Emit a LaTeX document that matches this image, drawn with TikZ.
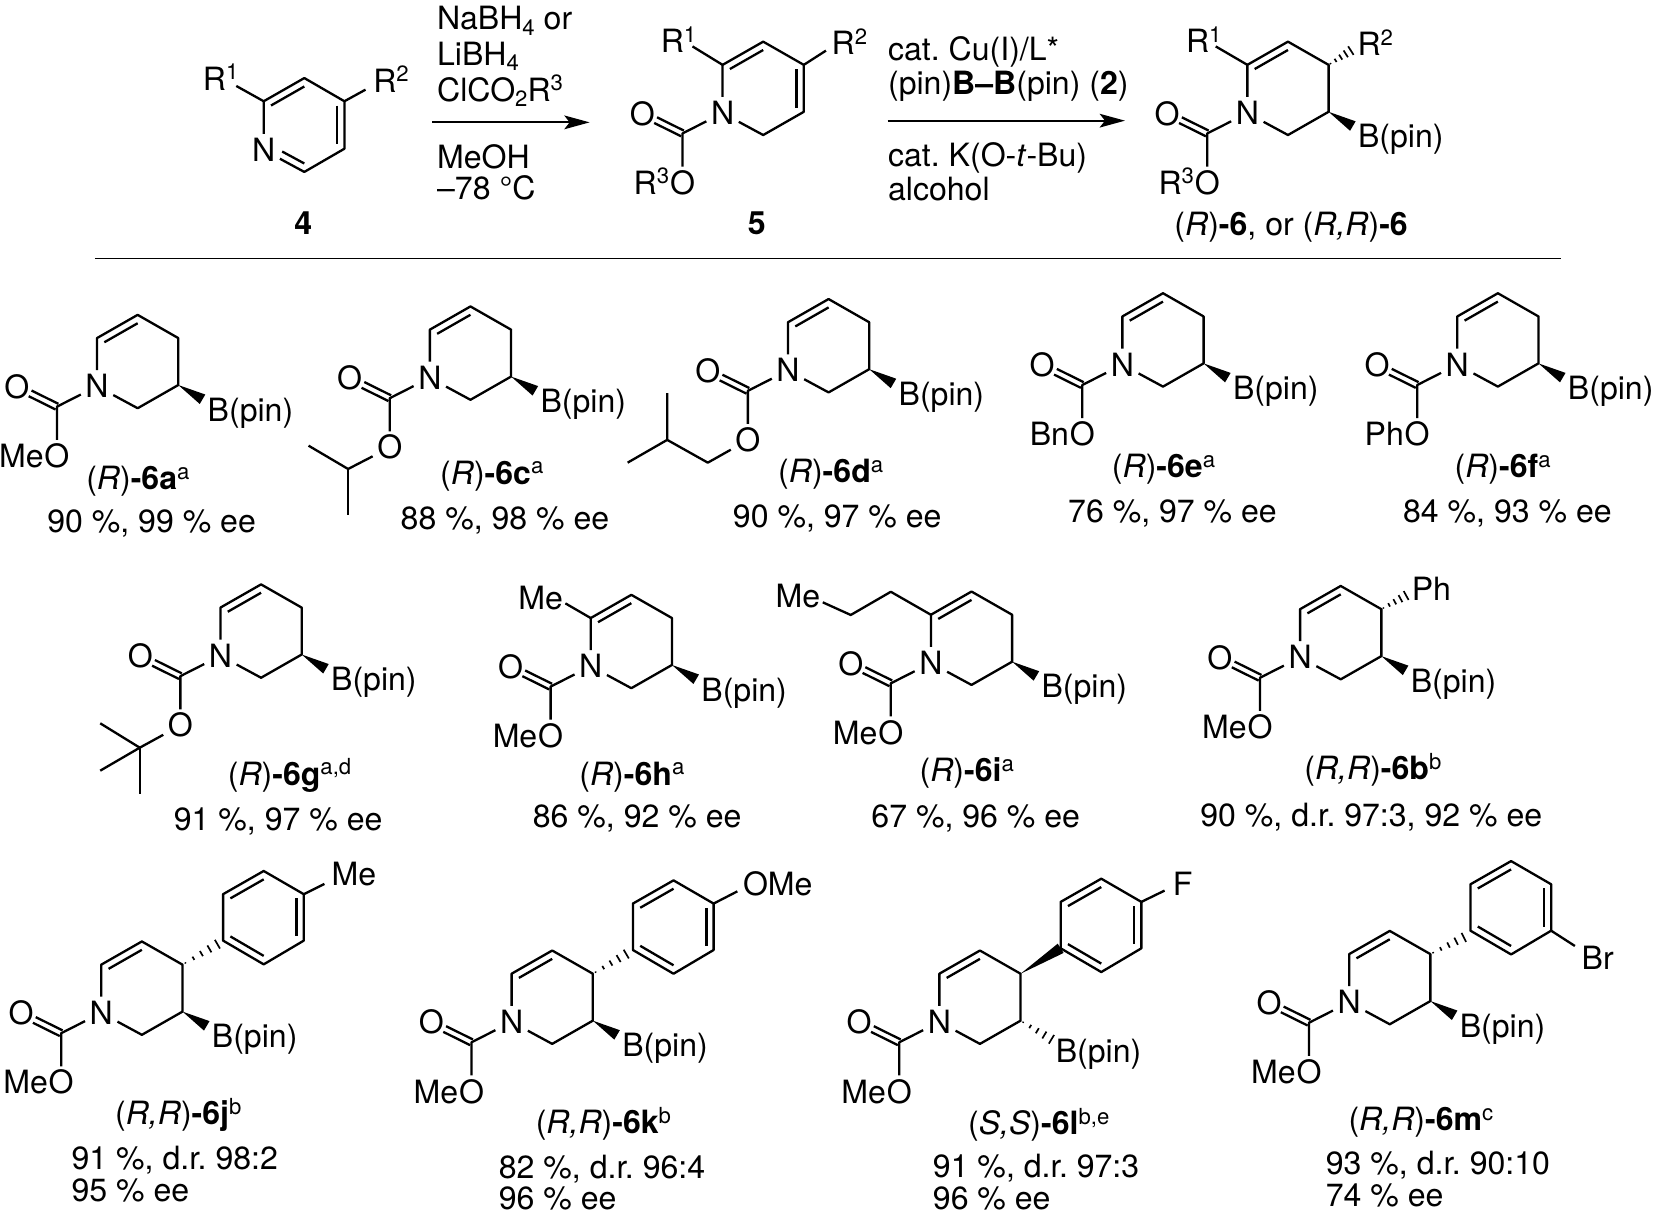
\documentclass[tikz,border=0pt]{standalone}
\usepackage{fontspec}
\setmainfont{TeX Gyre Heros}
\usetikzlibrary{calc,arrows.meta}
\frenchspacing
\newcommand{\sps}[1]{\raisebox{5pt}{\fontsize{10.5}{10.5}\selectfont #1}}
\newcommand{\sbs}[1]{\raisebox{-2.7pt}{\fontsize{10.5}{10.5}\selectfont #1}}
\newcommand{\cmp}[3]{(\textit{#1})\textbf{-#2}\sps{#3}}
\tikzset{
  bond/.style={line width=1.1pt,line join=round},
  rxn/.style={line width=.9pt,-{Stealth[length=12pt,width=6.5pt,inset=2.5pt]}},
  txt/.style={inner sep=0pt,yshift=-.6pt,font=\fontsize{15.2}{18}\selectfont},
  atom/.style={txt,inner sep=2pt,text height=10.9pt,text depth=0pt},
  cpd/.style={txt,anchor=base},
  lft/.style={txt,anchor=base west},
}
% inner line of a ring double bond
\newcommand{\inbond}[3]{\draw[bond] ($(#1)!.18!(#3)$) -- ($(#2)!.18!(#3)$);}
% C=O double bond
\newcommand{\cdbl}[2]{%
  \draw[bond,shorten >=7pt] ($(#1)!1.5pt!-90:(#2)$) -- ($(#2)!1.5pt!90:(#1)$);
  \draw[bond,shorten >=7pt] ($(#1)!1.5pt!90:(#2)$) -- ($(#2)!1.5pt!-90:(#1)$);}
\newcommand{\wdg}[2]{\fill ($(#2)!2.6pt!90:(#1)$) -- (#1) -- ($(#2)!2.6pt!-90:(#1)$) -- cycle;}
\newcommand{\hsh}[2]{%
  \foreach \t/\w in {.08/.3,.30/.9,.52/1.4,.74/1.9,.96/2.4}{%
    \draw[line width=.8pt] ($($(#1)!\t!(#2)$)!\w pt!90:(#2)$) -- ($($(#1)!\t!(#2)$)!\w pt!-90:(#2)$);}}
% tetrahydropyridine core, N at the scope's origin
\newcommand{\pipcore}[1]{%
  \node[atom] (n) at (0,0) {N};
  \coordinate (c6) at (0,-44.5);
  \coordinate (c5) at (38.5,-66.5);
  \coordinate (c4) at (77,-44.5);
  \coordinate (c3) at (77,0);
  \coordinate (c2) at (38.5,22);
  \coordinate (cen) at (38.5,-22.5);
  \coordinate (co) at (-38,20.5);
  \node[atom] (oa) at (-76,0.5) {O};
  \node[atom] (oe) at (-38,66) {O};
  \draw[bond] (n) -- (c6) -- (c5) -- (c4) -- (c3) -- (c2) -- (n);
  \inbond{c6}{c5}{cen}
  \draw[bond] (n) -- (co) -- (oe);
  \cdbl{co}{oa}
  \if\relax\detokenize{#1}\relax\else
    \node[txt,anchor=base east,xshift=2pt,yshift=.6pt] (oel) at (oe.base west) {#1};
  \fi}
\newcommand{\bpinw}{%
  \coordinate (bb) at (100,13.5);
  \wdg{c3}{bb}
  \node[lft] (bp) at (104.5,33) {B(pin)};}
% aryl ring, with its ipso carbon at (#1,#2) from N
\newcommand{\arylring}[2]{%
  \begin{scope}[shift={(#1,#2)}]
  \coordinate (a0) at (0,0);
  \coordinate (a1) at (0,-44);
  \coordinate (a2) at (38.5,-66);
  \coordinate (a3) at (76.5,-44);
  \coordinate (a4) at (76.5,0);
  \coordinate (a5) at (38.5,22.5);
  \coordinate (ac) at (38.5,-22);
  \draw[bond] (a0) -- (a1) -- (a2) -- (a3) -- (a4) -- (a5) -- cycle;
  \inbond{a0}{a5}{ac}
  \inbond{a1}{a2}{ac}
  \inbond{a3}{a4}{ac}
  \end{scope}}
\begin{document}
\begin{tikzpicture}[x=.5pt,y=-.5pt]
\useasboundingbox (0,0) rectangle (1568,1155);
\fill[white] (0,0) rectangle (1568,1155);

% ---------- compound 4
\begin{scope}[shift={(250,141)},name prefix=p4-]
  \node[atom] (n) at (0,0) {N};
  \coordinate (c2) at (0,-45);
  \coordinate (c3) at (38.5,-67);
  \coordinate (c4) at (76.5,-45);
  \coordinate (c5) at (76.5,0);
  \coordinate (c6) at (38.5,22);
  \coordinate (cen) at (38.5,-22.5);
  \draw[bond] (n) -- (c2) -- (c3) -- (c4) -- (c5) -- (c6) -- (n);
  \inbond{c2}{c3}{cen}
  \inbond{c4}{c5}{cen}
  \draw[bond,shorten <=6pt] ($(n)!.18!(cen)$) -- ($(c6)!.18!(cen)$);
  \coordinate (r1e) at (-26,-59.5);
  \coordinate (r2e) at (96.5,-56);
  \draw[bond] (c2) -- (r1e);
  \draw[bond] (c4) -- (r2e);
  \node[lft] (r1) at (-58,-56.5) {R\sps{1}};
  \node[lft] (r2) at (103.5,-54.5) {R\sps{2}};
\end{scope}
\node[cpd] (l4) at (287.5,221.5) {\textbf{4}};

% ---------- first arrow
\coordinate (ar1s) at (410,116);
\coordinate (ar1e) at (559,116);
\draw[rxn] (ar1s) -- (ar1e);
\node[lft] (t1) at (414,27) {NaBH\sbs{4} or};
\node[lft] (t2) at (414,60.7) {LiBH\sbs{4}};
\node[lft] (t3) at (414,94.8) {ClCO\sbs{2}R\sps{3}};
\node[lft] (t4) at (414,158.6) {MeOH};
\node[lft] (t5) at (414,188) {–78 °C};

% ---------- compound 5
\begin{scope}[shift={(685,106)},name prefix=p5-]
  \pipcore{R\sps{3}}
  \inbond{c4}{c3}{cen}
  \coordinate (r1e) at (-28.5,-62);
  \coordinate (r2e) at (98,-58);
  \draw[bond] (c6) -- (r1e);
  \draw[bond] (c4) -- (r2e);
  \node[lft] (r1) at (-59,-57.3) {R\sps{1}};
  \node[lft] (r2) at (103,-55.3) {R\sps{2}};
\end{scope}
\node[cpd] (l5) at (717.5,221.5) {\textbf{5}};

% ---------- second arrow
\coordinate (ar2s) at (841.5,114.4);
\coordinate (ar2e) at (1066.5,114.4);
\draw[rxn] (ar2s) -- (ar2e);
\node[lft] (t6) at (841.5,56) {cat. Cu(I)/L*};
\node[lft] (t7) at (841.5,88.5) {(pin)\textbf{B–B}(pin) (\textbf{2})};
\node[lft] (t8) at (841.5,156.4) {cat. K(O-\textit{t}-Bu)};
\node[lft] (t9) at (841.5,188.6) {alcohol};

% ---------- product
\begin{scope}[shift={(1182.5,106)},name prefix=p6-]
  \pipcore{R\sps{3}}
  \bpinw
  \coordinate (r1e) at (-30,-62);
  \coordinate (r2e) at (99,-58.6);
  \draw[bond] (c6) -- (r1e);
  \hsh{c4}{r2e}
  \node[lft] (r1) at (-58.5,-57) {R\sps{1}};
  \node[lft] (r2) at (104,-54.3) {R\sps{2}};
\end{scope}
\node[cpd] (l6) at (1224,222) {(\textit{R})\textbf{-6}, or (\textit{R,R})\textbf{-6}};

% ---------- rule
\coordinate (rule1) at (90,245);
\coordinate (rule2) at (1480,245);
\draw[line width=.85pt] (rule1) -- (rule2);

% ---------- row 1
\begin{scope}[shift={(92,365)},name prefix=a-]
  \pipcore{Me}\bpinw
\end{scope}
\node[cpd] (la) at (130.7,463) {\cmp{R}{6a}{a}};
\node[cpd] (ya) at (143.7,504) {90 \%, 99 \% ee};

\begin{scope}[shift={(407.5,357)},name prefix=c-]
  \pipcore{}\bpinw
  \coordinate (ch) at (-77.5,87.6);
  \coordinate (m1) at (-115,65.5);
  \coordinate (m2) at (-77.5,131);
  \draw[bond] (oe) -- (ch) -- (m1);
  \draw[bond] (ch) -- (m2);
\end{scope}
\node[cpd] (lc) at (466.2,458) {\cmp{R}{6c}{a}};
\node[cpd] (yc) at (478.7,500.8) {88 \%, 98 \% ee};

\begin{scope}[shift={(747,350)},name prefix=d-]
  \pipcore{}\bpinw
  \coordinate (ch2) at (-76,88.6);
  \coordinate (ch) at (-114.5,67);
  \coordinate (m1) at (-114.5,22.8);
  \coordinate (m2) at (-152,88.6);
  \draw[bond] (oe) -- (ch2) -- (ch) -- (m1);
  \draw[bond] (ch) -- (m2);
\end{scope}
\node[cpd] (ld) at (787.5,456.6) {\cmp{R}{6d}{a}};
\node[cpd] (yd) at (793.7,498.6) {90 \%, 97 \% ee};

\begin{scope}[shift={(1064,344.5)},name prefix=e-]
  \pipcore{Bn}\bpinw
\end{scope}
\node[cpd] (le) at (1103,451.8) {\cmp{R}{6e}{a}};
\node[cpd] (ye) at (1111.5,494.5) {76 \%, 97 \% ee};

\begin{scope}[shift={(1381.5,344.5)},name prefix=f-]
  \pipcore{Ph}\bpinw
\end{scope}
\node[cpd] (lf) at (1424.5,451.8) {\cmp{R}{6f}{a}};
\node[cpd] (yf) at (1429,494.5) {84 \%, 93 \% ee};

% ---------- row 2
\begin{scope}[shift={(209,620.5)},name prefix=g-]
  \pipcore{}\bpinw
  \coordinate (cq) at (-76.5,88.3);
  \coordinate (m1) at (-114,65.2);
  \coordinate (m2) at (-114,110.1);
  \coordinate (m3) at (-76.5,132.2);
  \draw[bond] (oe) -- (cq) -- (m1);
  \draw[bond] (cq) -- (m2);
  \draw[bond] (cq) -- (m3);
\end{scope}
\node[cpd] (lg) at (274.5,743) {\cmp{R}{6g}{a,d}};
\node[cpd] (yg) at (263.7,786.2) {91 \%, 97 \% ee};

\begin{scope}[shift={(560,630.4)},name prefix=h-]
  \pipcore{Me}\bpinw
  \coordinate (me) at (-24,-58.4);
  \draw[bond] (c6) -- (me);
  \node[lft] (mt) at (-69,-54) {Me};
\end{scope}
\node[cpd] (lh) at (599,743) {\cmp{R}{6h}{a}};
\node[cpd] (yh) at (604,783.7) {86 \%, 92 \% ee};

\begin{scope}[shift={(882.5,627.3)},name prefix=i-]
  \pipcore{Me}\bpinw
  \coordinate (k1) at (-38,-66.3);
  \coordinate (k2) at (-76,-44.3);
  \coordinate (k3) at (-102.5,-56.3);
  \draw[bond] (c6) -- (k1) -- (k2) -- (k3);
  \node[lft] (mt) at (-147.5,-52.6) {Me};
\end{scope}
\node[cpd] (li) at (916.5,740) {\cmp{R}{6i}{a}};
\node[cpd] (yi) at (925,783) {67 \%, 96 \% ee};

\begin{scope}[shift={(1232.5,622)},name prefix=b-]
  \pipcore{Me}\bpinw
  \coordinate (ph) at (101.5,-58);
  \hsh{c4}{ph}
  \node[lft] (pt) at (105.5,-53.5) {Ph};
\end{scope}
\node[cpd] (lb) at (1301.5,738) {\cmp{R,R}{6b}{b}};
\node[cpd] (yb) at (1300,782) {90 \%, d.r. 97:3, 92 \% ee};

% ---------- row 3
\begin{scope}[shift={(96,959)},name prefix=j-]
  \pipcore{Me}\bpinw
  \arylring{115.5}{-67.3}
  \coordinate (hh) at (111.5,-64.7);
  \hsh{c4}{hh}
  \coordinate (me) at (211.5,-121);
  \draw[bond] (a3) -- (me);
  \node[lft] (mt) at (218,-120.4) {Me};
\end{scope}
\node[cpd] (lj) at (169,1065) {\cmp{R,R}{6j}{b}};
\node[lft] (yj1) at (67.5,1107.6) {91 \%, d.r. 98:2};
\node[lft] (yj2) at (67.5,1137.6) {95 \% ee};

\begin{scope}[shift={(485,967.6)},name prefix=k-]
  \pipcore{Me}\bpinw
  \arylring{115}{-67}
  \coordinate (hh) at (110,-63.9);
  \hsh{c4}{hh}
  \coordinate (me) at (214,-122.6);
  \draw[bond] (a3) -- (me);
  \node[lft] (mt) at (219,-119.5) {OMe};
\end{scope}
\node[cpd] (lk) at (572,1073.7) {\cmp{R,R}{6k}{b}};
\node[lft] (yk1) at (472.5,1116) {82 \%, d.r. 96:4};
\node[lft] (yk2) at (472.5,1145.5) {96 \% ee};

\begin{scope}[shift={(890.5,967.6)},name prefix=l-]
  \pipcore{Me}
  \arylring{115}{-68.6}
  \wdg{c4}{a0}
  \coordinate (bb) at (107.5,18.4);
  \hsh{c3}{bb}
  \node[lft] (bp) at (110,38.5) {B(pin)};
  \coordinate (fe) at (213.5,-123.3);
  \draw[bond] (a3) -- (fe);
  \node[lft] (ft) at (221,-120.2) {F};
\end{scope}
\node[cpd] (ll) at (984.7,1074.4) {\cmp{S,S}{6l}{b,e}};
\node[lft] (yl1) at (884,1115.5) {91 \%, d.r. 97:3};
\node[lft] (yl2) at (884,1145.5) {96 \% ee};

\begin{scope}[shift={(1279,949)},name prefix=m-]
  \pipcore{Me}\bpinw
  \arylring{115}{-66.7}
  \coordinate (hh) at (110,-61);
  \hsh{c4}{hh}
  \coordinate (be) at (214,-52.2);
  \draw[bond] (a4) -- (be);
  \node[lft] (bt) at (220,-31.3) {Br};
\end{scope}
\node[cpd] (lm) at (1347,1070.6) {\cmp{R,R}{6m}{c}};
\node[lft] (ym1) at (1256.5,1112.3) {93 \%, d.r. 90:10};
\node[lft] (ym2) at (1256.5,1142.3) {74 \% ee};
\end{tikzpicture}
\end{document}
